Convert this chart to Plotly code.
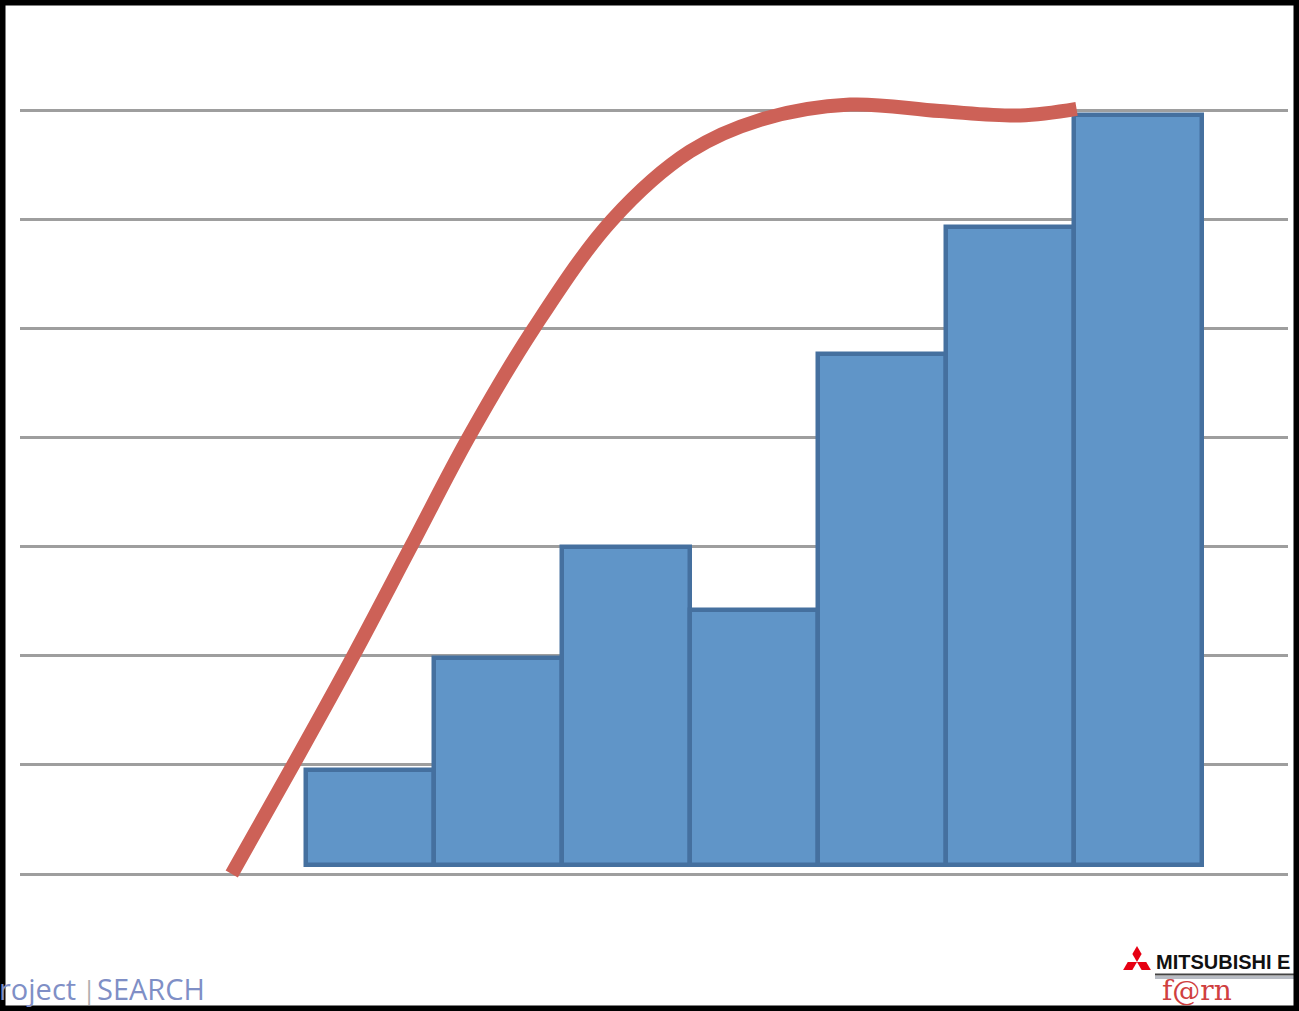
import plotly.graph_objects as go

# ---- data ----
bar_positions = [1, 2, 3, 4, 5, 6, 7]
bar_values = [0.95, 1.98, 3.0, 2.42, 4.76, 5.93, 6.95]
bar_base = 0.08

curve_x = [-0.08, 0.40, 0.87, 1.32, 1.77, 2.28, 2.89, 3.50, 4.05, 4.75, 5.45, 6.08, 6.52]
curve_y = [0.0, 1.0, 2.0, 3.0, 4.0, 5.0, 5.99, 6.62, 6.91, 7.05, 6.99, 6.95, 7.01]

grid_vals = [0, 1, 2, 3, 4, 5, 6, 7]

W, H = 1299, 1011
ML, MR = 20, 11
PW = W - ML - MR


def px(x):
    return (x - ML) / PW


def py(y):
    return (H - y) / H


fig = go.Figure()
fig.add_trace(go.Bar(
    x=bar_positions,
    y=[v - bar_base for v in bar_values],
    base=bar_base,
    width=1,
    marker=dict(color="#6095C8", line=dict(color="#45709F", width=4.5)),
    showlegend=False,
    hoverinfo="skip",
))
fig.add_trace(go.Scatter(
    x=curve_x, y=curve_y, mode="lines",
    line=dict(color="#CD6157", width=14, shape="spline", smoothing=1.0),
    showlegend=False, hoverinfo="skip", cliponaxis=True,
))

# Mitsubishi three-diamond mark (pixel geometry converted to paper)
cx, cy = 1137, 962
s = 2.31
diamonds = [
    [(0, 0), (4.62, -8), (0, -16), (-4.62, -8)],
    [(0, 0), (-6.93 + s, 4 + 4), (-13.86, 8), (-6.93 - s, 4 - 4)],
    [(0, 0), (6.93 - s, 4 + 4), (13.86, 8), (6.93 + s, 4 - 4)],
]
shapes = []
for d in diamonds:
    pts = [(px(cx + a), py(cy + b)) for a, b in d]
    path = "M " + " L ".join(f"{x:.5f},{y:.5f}" for x, y in pts) + " Z"
    shapes.append(dict(type="path", xref="paper", yref="paper", path=path,
                       fillcolor="#E60012", line=dict(width=0)))
# underline (with soft shadow) under logo text
shapes.append(dict(type="line", xref="paper", yref="paper",
                   x0=px(1155), x1=px(1299), y0=py(977.5), y1=py(977.5),
                   line=dict(color="#B8BCC4", width=3)))
shapes.append(dict(type="line", xref="paper", yref="paper",
                   x0=px(1155), x1=px(1299), y0=py(974.5), y1=py(974.5),
                   line=dict(color="#444444", width=2)))
# black frame
shapes.append(dict(type="rect", xref="paper", yref="paper",
                   x0=px(0), x1=px(W), y0=py(H), y1=py(0),
                   line=dict(color="black", width=11), layer="above"))

annotations = [
    dict(text="roject", xref="paper", yref="paper", x=px(-3), y=py(1010),
         xanchor="left", yanchor="bottom", showarrow=False,
         font=dict(family="Open Sans", size=29, color="#7F8FC6")),
    dict(text="|", xref="paper", yref="paper", x=px(89), y=py(1009),
         xanchor="center", yanchor="bottom", showarrow=False,
         font=dict(family="Open Sans", size=26, color="#B0B0B0")),
    dict(text="SEARCH", xref="paper", yref="paper", x=px(95), y=py(1010),
         xanchor="left", yanchor="bottom", showarrow=False,
         font=dict(family="Open Sans", size=29, color="#7F8FC6")),
    dict(text="<b>MITSUBISHI E</b>", xref="paper", yref="paper", x=px(1154), y=py(975),
         xanchor="left", yanchor="bottom", showarrow=False,
         font=dict(family="Liberation Sans", size=20, color="#111111")),
    dict(text="f@rn", xref="paper", yref="paper", x=px(1160), y=py(1009),
         xanchor="left", yanchor="bottom", showarrow=False,
         font=dict(family="DejaVu Serif", size=28, color="#D04040")),
]

fig.update_layout(
    width=W, height=H,
    margin=dict(l=ML, r=MR, t=0, b=0, pad=0),
    paper_bgcolor="white", plot_bgcolor="white",
    bargap=0,
    xaxis=dict(range=[1 - 350 / 128, 1 + 918 / 128], showgrid=False, zeroline=False,
               showticklabels=False, ticks="", showline=False),
    yaxis=dict(range=[(874 - 1011) / 109.14, 874 / 109.14], tickvals=grid_vals,
               showgrid=True, gridcolor="#9E9E9E", gridwidth=2.5, zeroline=False,
               showticklabels=False, ticks="", showline=False),
    shapes=shapes,
    annotations=annotations,
)

fig.write_html("out.html")
